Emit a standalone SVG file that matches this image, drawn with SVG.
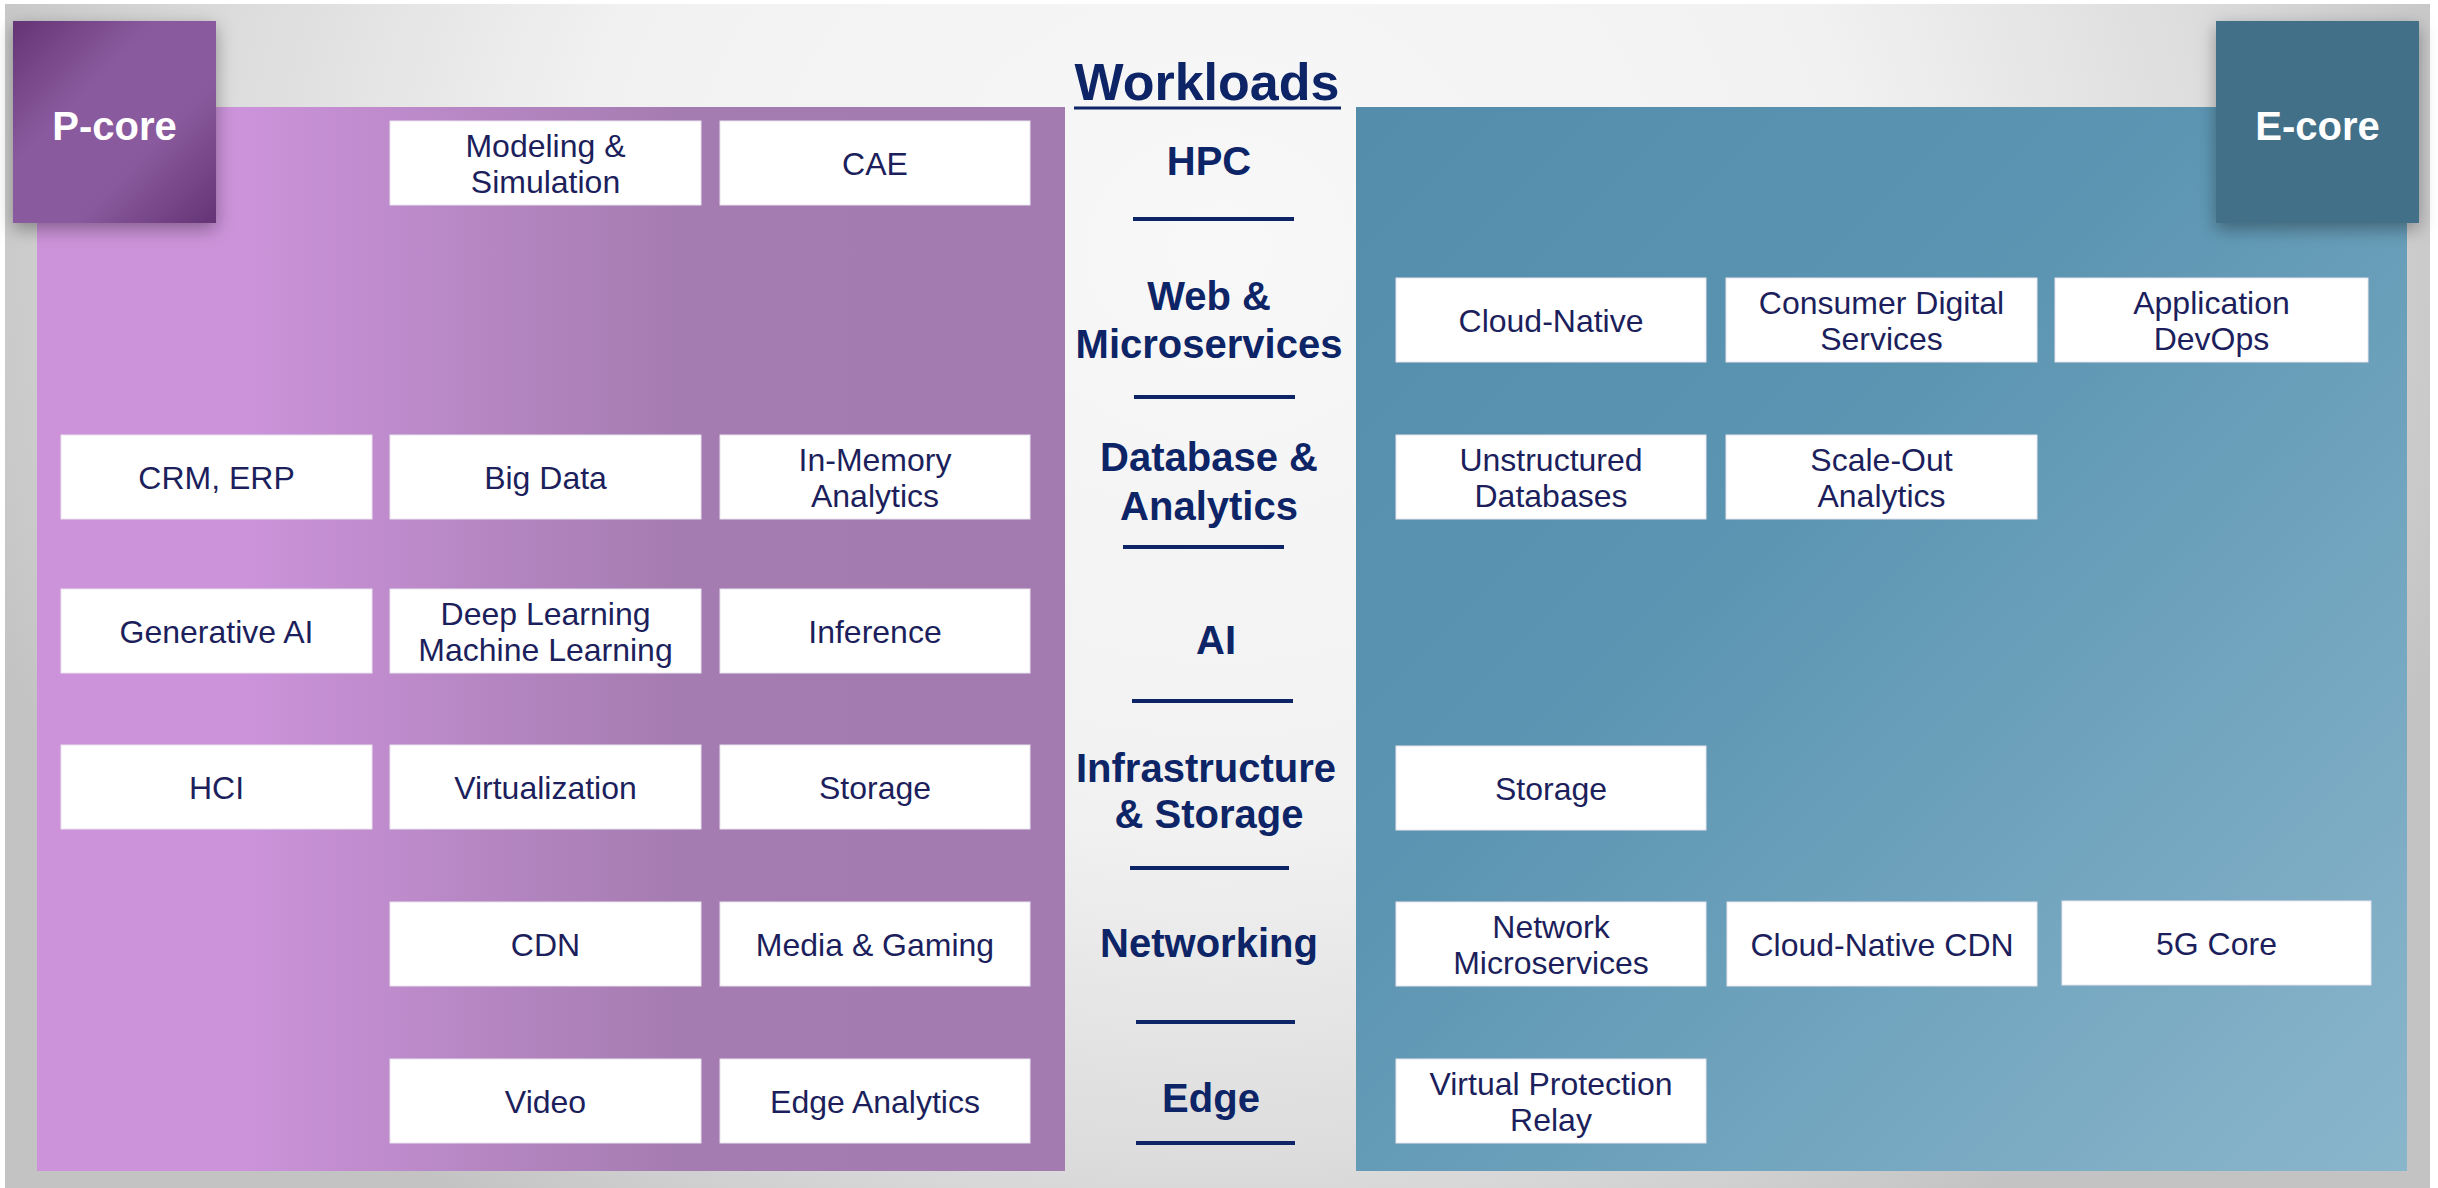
<svg xmlns="http://www.w3.org/2000/svg" width="2438" height="1188" viewBox="0 0 2438 1188">
  <defs>
    <radialGradient id="bg" gradientUnits="userSpaceOnUse" cx="1219" cy="250" r="1300" gradientTransform="translate(1219 250) scale(1 0.9) translate(-1219 -250)">
      <stop offset="0" stop-color="#f8f8f8"/>
      <stop offset="0.5" stop-color="#f1f1f1"/>
      <stop offset="0.78" stop-color="#dcdcdc"/>
      <stop offset="1" stop-color="#c3c3c3"/>
    </radialGradient>
    <linearGradient id="purple" gradientUnits="userSpaceOnUse" x1="37" y1="0" x2="1065" y2="0">
      <stop offset="0" stop-color="#cc93da"/>
      <stop offset="0.2" stop-color="#cc93da"/>
      <stop offset="0.4" stop-color="#b988c6"/>
      <stop offset="0.62" stop-color="#a57cb1"/>
      <stop offset="1" stop-color="#a47bb0"/>
    </linearGradient>
    <linearGradient id="blue" gradientUnits="userSpaceOnUse" x1="1356" y1="107" x2="2407" y2="1171">
      <stop offset="0" stop-color="#548dab"/>
      <stop offset="0.4" stop-color="#5c95b2"/>
      <stop offset="1" stop-color="#8ab6cc"/>
    </linearGradient>
    <linearGradient id="pcore" gradientUnits="userSpaceOnUse" x1="13" y1="21" x2="216" y2="223">
      <stop offset="0" stop-color="#653375"/>
      <stop offset="0.35" stop-color="#8a5a9e"/>
      <stop offset="0.65" stop-color="#8a5a9e"/>
      <stop offset="1" stop-color="#653375"/>
    </linearGradient>
    <filter id="shadow" x="-30%" y="-30%" width="160%" height="170%">
      <feDropShadow dx="0" dy="6" stdDeviation="9" flood-color="#000" flood-opacity="0.35"/>
    </filter>
    <style>
      .box { fill: #ffffff; stroke: #e8e4ee; stroke-width: 1; }
      .bt { font-family: "Liberation Sans", Arial, sans-serif; font-size: 32px; fill: #1c1f5c; text-anchor: middle; }
      .cl { font-family: "Liberation Sans", Arial, sans-serif; font-size: 40px; font-weight: bold; fill: #0d2466; text-anchor: middle; }
      .sep { stroke: #0d2466; stroke-width: 4; }
      .core { font-family: "Liberation Sans", Arial, sans-serif; font-size: 40px; font-weight: bold; fill: #ffffff; text-anchor: middle; }
    </style>
  </defs>

  <rect x="0" y="0" width="2438" height="1188" fill="#ffffff"/>
  <rect x="5" y="4" width="2425" height="1184" fill="url(#bg)"/>

  <rect id="p-panel" x="37" y="107" width="1028" height="1064" fill="url(#purple)"/>
  <rect id="e-panel" x="1356" y="107" width="1051" height="1064" fill="url(#blue)"/>

  <g id="p-core">
    <rect x="13" y="21" width="203" height="202" fill="url(#pcore)" filter="url(#shadow)"/>
    <text class="core" x="114.5" y="140">P-core</text>
  </g>
  <g id="e-core">
    <rect x="2216" y="21" width="203" height="202" fill="#426f88" filter="url(#shadow)"/>
    <text class="core" x="2317.5" y="140">E-core</text>
  </g>

  <g id="title">
    <text x="1207" y="100" font-family="Liberation Sans, Arial, sans-serif" font-size="52" font-weight="bold" fill="#0d2466" text-anchor="middle">Workloads</text>
    <line x1="1074" y1="108" x2="1341" y2="108" stroke="#0d2466" stroke-width="3"/>
  </g>

  <g id="categories">
    <text class="cl" x="1209" y="175">HPC</text>
    <text class="cl" x="1209" y="310">Web &amp;</text>
    <text class="cl" x="1209" y="358">Microservices</text>
    <text class="cl" x="1209" y="471">Database &amp;</text>
    <text class="cl" x="1209" y="520">Analytics</text>
    <text class="cl" x="1216" y="654">AI</text>
    <text class="cl" x="1206" y="782">Infrastructure</text>
    <text class="cl" x="1209" y="828">&amp; Storage</text>
    <text class="cl" x="1209" y="957">Networking</text>
    <text class="cl" x="1211" y="1112">Edge</text>
  </g>

  <g id="connectors">
    <line class="sep" x1="1133" y1="219" x2="1294" y2="219"/>
    <line class="sep" x1="1134" y1="397" x2="1295" y2="397"/>
    <line class="sep" x1="1123" y1="547" x2="1284" y2="547"/>
    <line class="sep" x1="1132" y1="701" x2="1293" y2="701"/>
    <line class="sep" x1="1130" y1="868" x2="1289" y2="868"/>
    <line class="sep" x1="1136" y1="1022" x2="1295" y2="1022"/>
    <line class="sep" x1="1136" y1="1143" x2="1295" y2="1143"/>
  </g>

  <!-- P-core side -->
  <g id="modeling-simulation"><rect class="box" x="390" y="121" width="311" height="84"/><text class="bt" x="545.5" y="157">Modeling &amp;</text><text class="bt" x="545.5" y="193">Simulation</text></g>
  <g id="cae"><rect class="box" x="720" y="121" width="310" height="84"/><text class="bt" x="875" y="175">CAE</text></g>

  <g id="crm-erp"><rect class="box" x="61" y="435" width="311" height="84"/><text class="bt" x="216.5" y="489">CRM, ERP</text></g>
  <g id="big-data"><rect class="box" x="390" y="435" width="311" height="84"/><text class="bt" x="545.5" y="489">Big Data</text></g>
  <g id="in-memory-analytics"><rect class="box" x="720" y="435" width="310" height="84"/><text class="bt" x="875" y="471">In-Memory</text><text class="bt" x="875" y="507">Analytics</text></g>

  <g id="generative-ai"><rect class="box" x="61" y="589" width="311" height="84"/><text class="bt" x="216.5" y="643">Generative AI</text></g>
  <g id="deep-learning"><rect class="box" x="390" y="589" width="311" height="84"/><text class="bt" x="545.5" y="625">Deep Learning</text><text class="bt" x="545.5" y="661">Machine Learning</text></g>
  <g id="inference"><rect class="box" x="720" y="589" width="310" height="84"/><text class="bt" x="875" y="643">Inference</text></g>

  <g id="hci"><rect class="box" x="61" y="745" width="311" height="84"/><text class="bt" x="216.5" y="799">HCI</text></g>
  <g id="virtualization"><rect class="box" x="390" y="745" width="311" height="84"/><text class="bt" x="545.5" y="799">Virtualization</text></g>
  <g id="storage-p"><rect class="box" x="720" y="745" width="310" height="84"/><text class="bt" x="875" y="799">Storage</text></g>

  <g id="cdn"><rect class="box" x="390" y="902" width="311" height="84"/><text class="bt" x="545.5" y="956">CDN</text></g>
  <g id="media-gaming"><rect class="box" x="720" y="902" width="310" height="84"/><text class="bt" x="875" y="956">Media &amp; Gaming</text></g>

  <g id="video"><rect class="box" x="390" y="1059" width="311" height="84"/><text class="bt" x="545.5" y="1113">Video</text></g>
  <g id="edge-analytics"><rect class="box" x="720" y="1059" width="310" height="84"/><text class="bt" x="875" y="1113">Edge Analytics</text></g>

  <!-- E-core side -->
  <g id="cloud-native"><rect class="box" x="1396" y="278" width="310" height="84"/><text class="bt" x="1551" y="332">Cloud-Native</text></g>
  <g id="consumer-digital-services"><rect class="box" x="1726" y="278" width="311" height="84"/><text class="bt" x="1881.5" y="314">Consumer Digital</text><text class="bt" x="1881.5" y="350">Services</text></g>
  <g id="application-devops"><rect class="box" x="2055" y="278" width="313" height="84"/><text class="bt" x="2211.5" y="314">Application</text><text class="bt" x="2211.5" y="350">DevOps</text></g>

  <g id="unstructured-databases"><rect class="box" x="1396" y="435" width="310" height="84"/><text class="bt" x="1551" y="471">Unstructured</text><text class="bt" x="1551" y="507">Databases</text></g>
  <g id="scale-out-analytics"><rect class="box" x="1726" y="435" width="311" height="84"/><text class="bt" x="1881.5" y="471">Scale-Out</text><text class="bt" x="1881.5" y="507">Analytics</text></g>

  <g id="storage-e"><rect class="box" x="1396" y="746" width="310" height="84"/><text class="bt" x="1551" y="800">Storage</text></g>

  <g id="network-microservices"><rect class="box" x="1396" y="902" width="310" height="84"/><text class="bt" x="1551" y="938">Network</text><text class="bt" x="1551" y="974">Microservices</text></g>
  <g id="cloud-native-cdn"><rect class="box" x="1727" y="902" width="310" height="84"/><text class="bt" x="1882" y="956">Cloud-Native CDN</text></g>
  <g id="5g-core"><rect class="box" x="2062" y="901" width="309" height="84"/><text class="bt" x="2216.5" y="955">5G Core</text></g>

  <g id="virtual-protection-relay"><rect class="box" x="1396" y="1059" width="310" height="84"/><text class="bt" x="1551" y="1095">Virtual Protection</text><text class="bt" x="1551" y="1131">Relay</text></g>
</svg>
